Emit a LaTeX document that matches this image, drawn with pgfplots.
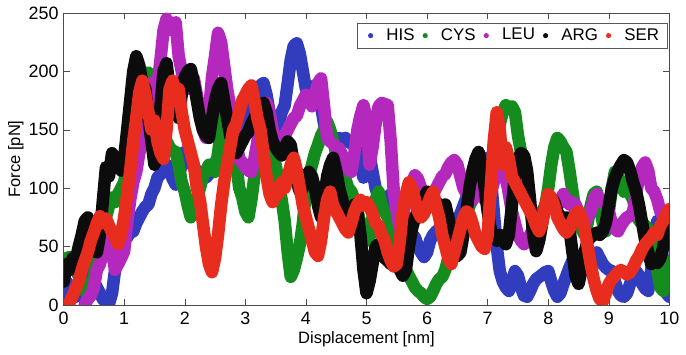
\documentclass[border=0pt]{standalone}
\usepackage{fontspec}
\setmainfont{Liberation Sans}
\usepackage{pgfplots}
\pgfplotsset{compat=1.18}
\definecolor{his}{RGB}{50,60,190}
\definecolor{cys}{RGB}{20,140,30}
\definecolor{leu}{RGB}{180,40,190}
\definecolor{arg}{RGB}{12,12,12}
\definecolor{ser}{RGB}{232,45,30}
\begin{document}
\begin{tikzpicture}
\begin{axis}[
  width=305pt, height=147pt, scale only axis,
  xmin=0, xmax=10, ymin=0, ymax=250,
  xtick={0,1,...,10}, ytick={0,50,...,250},
  xlabel={Displacement [nm]}, ylabel={Force [pN]},
  /pgf/number format/assume math mode=true,
  tick label style={font=\fontsize{9}{11}\selectfont},
  every axis x label/.style={at={([yshift=-17.5pt]rel axis cs:0.5,0)}, anchor=center, font=\fontsize{8.3}{10}\selectfont},
  every axis y label/.style={at={([xshift=-24pt]rel axis cs:0,0.5)}, rotate=90, anchor=center, font=\fontsize{8.3}{10}\selectfont},
  axis line style={gray!60!black},
  tick style={gray!60!black},
  major tick length=3pt,
  yticklabel style={xshift=1pt},
  legend columns=5,
  legend style={at={([xshift=-1pt,yshift=-5pt]rel axis cs:1,1)}, anchor=north east, draw=gray!70!black,
    font=\fontsize{8.5}{10}\selectfont, inner xsep=1.5pt, inner ysep=1pt,
    nodes={inner xsep=2.5pt, inner ysep=1.5pt},
    /tikz/every even column/.append style={column sep=-2.3pt}},
  legend image code/.code={\fill[#1, draw=none, line width=0pt] (0pt,0pt) circle (1.3pt); \path (-2pt,0pt) (2.3pt,0pt);},
  every axis plot/.append style={line width=6.3pt, line join=round, line cap=round},
  extra description/.code={\path ([xshift=-32pt,yshift=6pt]rel axis cs:0,1) ([xshift=6pt,yshift=-24pt]rel axis cs:1,0);},
]
\addplot[his] coordinates {
(0.0,10)(0.05,20)(0.1,15)(0.15,10)(0.2,7)(0.25,15)(0.3,25)(0.35,35)(0.4,41)(0.45,30)(0.5,20)(0.55,15)(0.6,10)(0.65,5)(0.7,2)(0.75,1)(0.8,10)(0.85,30)(0.9,45)(0.95,52)
(1.0,55)(1.05,58)(1.1,62)(1.15,63)(1.2,70)(1.25,75)(1.3,80)(1.35,84)(1.4,86)(1.45,95)(1.5,100)(1.55,109)(1.6,112)(1.65,118)(1.7,120)(1.75,115)(1.8,108)(1.85,103)(1.9,110)(1.95,120)
(2.0,131)(2.05,128)(2.1,122)(2.15,118)(2.2,115)(2.25,112)(2.3,110)(2.35,109)(2.4,112)(2.45,118)(2.5,122)(2.55,125)(2.6,128)(2.65,126)(2.7,124)(2.75,128)(2.8,132)(2.85,138)(2.9,145)(2.95,150)
(3.0,158)(3.05,162)(3.1,170)(3.15,178)(3.2,185)(3.25,188)(3.3,190)(3.35,180)(3.4,165)(3.45,150)(3.5,148)(3.55,155)(3.6,165)(3.65,171)(3.7,190)(3.75,210)(3.8,222)(3.85,224)(3.9,215)(3.95,200)
(4.0,185)(4.05,182)(4.1,185)(4.15,188)(4.2,186)(4.25,170)(4.3,155)(4.35,148)(4.4,145)(4.45,140)(4.5,142)(4.55,143)(4.6,140)(4.65,143)(4.7,140)(4.75,138)(4.8,137)(4.85,130)(4.9,120)(4.95,109)
(5.0,120)(5.05,128)(5.1,114)(5.15,100)(5.2,92)(5.25,88)(5.3,85)(5.35,90)(5.4,95)(5.45,92)(5.5,85)(5.55,80)(5.6,75)(5.65,70)(5.7,65)(5.75,60)(5.8,58)(5.85,50)(5.9,45)(5.95,41)
(6.0,45)(6.05,55)(6.1,60)(6.15,63)(6.2,65)(6.25,68)(6.3,70)(6.35,72)(6.4,70)(6.45,68)(6.5,72)(6.55,78)(6.6,85)(6.65,92)(6.7,100)(6.75,105)(6.8,110)(6.85,115)(6.9,120)(6.95,124)
(7.0,126)(7.05,110)(7.1,80)(7.15,50)(7.2,29)(7.25,20)(7.3,15)(7.35,12)(7.4,20)(7.45,29)(7.5,25)(7.55,15)(7.6,8)(7.65,7)(7.7,12)(7.75,18)(7.8,22)(7.85,24)(7.9,26)(7.95,28)
(8.0,29)(8.05,20)(8.1,12)(8.15,7)(8.2,10)(8.25,18)(8.3,25)(8.35,32)(8.4,38)(8.45,40)(8.5,41)(8.55,38)(8.6,35)(8.65,30)(8.7,35)(8.75,40)(8.8,45)(8.85,40)(8.9,35)(8.95,32)
(9.0,30)(9.05,29)(9.1,20)(9.15,12)(9.2,8)(9.25,7)(9.3,10)(9.35,18)(9.4,25)(9.45,29)(9.5,25)(9.55,18)(9.6,14)(9.65,12)(9.7,30)(9.75,55)(9.8,72)(9.85,60)(9.9,35)(9.95,10)(10.0,7)
};
\addlegendentry{HIS}
\addplot[cys] coordinates {
(0.0,30)(0.05,40)(0.1,41)(0.15,35)(0.2,30)(0.25,25)(0.3,18)(0.35,12)(0.4,9)(0.45,10)(0.5,25)(0.55,38)(0.6,46)(0.65,60)(0.7,75)(0.75,85)(0.8,92)(0.85,88)(0.9,95)(0.95,100)
(1.0,105)(1.05,120)(1.1,140)(1.15,160)(1.2,175)(1.25,185)(1.3,192)(1.35,198)(1.4,199)(1.45,195)(1.5,185)(1.55,170)(1.6,160)(1.65,150)(1.7,140)(1.75,135)(1.8,132)(1.85,131)(1.9,120)(1.95,105)
(2.0,97)(2.05,85)(2.1,75)(2.15,80)(2.2,90)(2.25,100)(2.3,110)(2.35,115)(2.4,120)(2.45,118)(2.5,114)(2.55,130)(2.6,150)(2.65,165)(2.7,171)(2.75,160)(2.8,140)(2.85,120)(2.9,100)(2.95,92)
(3.0,80)(3.05,75)(3.1,90)(3.15,110)(3.2,125)(3.25,135)(3.3,145)(3.35,150)(3.4,140)(3.45,130)(3.5,120)(3.55,105)(3.6,90)(3.65,72)(3.7,45)(3.75,24)(3.8,30)(3.85,40)(3.9,52)(3.95,70)
(4.0,97)(4.05,110)(4.1,120)(4.15,130)(4.2,137)(4.25,145)(4.3,150)(4.35,157)(4.4,150)(4.45,140)(4.5,130)(4.55,120)(4.6,115)(4.65,108)(4.7,100)(4.75,97)(4.8,90)(4.85,80)(4.9,70)(4.95,58)
(5.0,55)(5.05,58)(5.1,75)(5.15,90)(5.2,97)(5.25,85)(5.3,80)(5.35,75)(5.4,70)(5.45,60)(5.5,50)(5.55,40)(5.6,35)(5.65,30)(5.7,25)(5.75,20)(5.8,15)(5.85,12)(5.9,10)(5.95,7)
(6.0,5)(6.05,7)(6.1,12)(6.15,18)(6.2,22)(6.25,24)(6.3,30)(6.35,40)(6.4,45)(6.45,50)(6.5,52)(6.55,60)(6.6,70)(6.65,78)(6.7,85)(6.75,90)(6.8,95)(6.85,100)(6.9,105)(6.95,108)
(7.0,109)(7.05,115)(7.1,125)(7.15,140)(7.2,155)(7.25,165)(7.3,171)(7.35,168)(7.4,170)(7.45,165)(7.5,145)(7.55,131)(7.6,115)(7.65,95)(7.7,80)(7.75,72)(7.8,74)(7.85,78)(7.9,80)(7.95,85)
(8.0,100)(8.05,120)(8.1,135)(8.15,143)(8.2,140)(8.25,135)(8.3,131)(8.35,115)(8.4,97)(8.45,80)(8.5,70)(8.55,65)(8.6,60)(8.65,70)(8.7,85)(8.75,95)(8.8,97)(8.85,85)(8.9,70)(8.95,63)
(9.0,80)(9.05,100)(9.1,114)(9.15,110)(9.2,105)(9.25,97)(9.3,100)(9.35,95)(9.4,90)(9.45,80)(9.5,72)(9.55,70)(9.6,68)(9.65,65)(9.7,55)(9.75,45)(9.8,30)(9.85,15)(9.9,12)(9.95,25)(10.0,37)
};
\addlegendentry{CYS}
\addplot[leu] coordinates {
(0.35,0)(0.4,5)(0.45,8)(0.5,15)(0.55,30)(0.6,35)(0.65,45)(0.7,55)(0.75,58)(0.8,45)(0.85,30)(0.9,35)(0.95,40)
(1.0,46)(1.05,70)(1.1,90)(1.15,105)(1.2,114)(1.25,130)(1.3,140)(1.35,151)(1.4,170)(1.45,190)(1.5,185)(1.55,188)(1.6,210)(1.65,235)(1.7,245)(1.75,240)(1.8,235)(1.85,242)(1.9,213)(1.95,200)
(2.0,190)(2.05,185)(2.1,192)(2.15,194)(2.2,180)(2.25,165)(2.3,150)(2.35,143)(2.4,165)(2.45,195)(2.5,213)(2.55,233)(2.6,225)(2.65,205)(2.7,185)(2.75,170)(2.8,160)(2.85,140)(2.9,125)(2.95,122)
(3.0,118)(3.05,115)(3.1,114)(3.15,125)(3.2,140)(3.25,154)(3.3,165)(3.35,173)(3.4,165)(3.45,150)(3.5,140)(3.55,135)(3.6,140)(3.65,145)(3.7,150)(3.75,155)(3.8,160)(3.85,162)(3.9,170)(3.95,175)
(4.0,180)(4.05,178)(4.1,170)(4.15,180)(4.2,190)(4.25,194)(4.3,170)(4.35,143)(4.4,140)(4.45,138)(4.5,135)(4.55,134)(4.6,128)(4.65,120)(4.7,116)(4.75,114)(4.8,130)(4.85,150)(4.9,162)(4.95,171)
(5.0,160)(5.05,120)(5.1,135)(5.15,155)(5.2,170)(5.25,173)(5.3,172)(5.35,171)(5.4,140)(5.45,97)(5.5,80)(5.55,65)(5.6,75)(5.65,90)(5.7,100)(5.75,105)(5.8,111)(5.85,108)(5.9,100)(5.95,95)
(6.0,92)(6.05,90)(6.1,95)(6.15,100)(6.2,105)(6.25,110)(6.3,112)(6.35,118)(6.4,122)(6.45,124)(6.5,120)(6.55,110)(6.6,100)(6.65,95)(6.7,92)(6.75,90)(6.8,95)(6.85,100)(6.9,95)(6.95,90)
(7.0,88)(7.05,95)(7.1,105)(7.15,110)(7.2,115)(7.25,114)(7.3,110)(7.35,95)(7.4,80)(7.45,70)(7.5,60)(7.55,55)(7.6,52)(7.65,55)(7.7,60)(7.75,65)(7.8,70)(7.85,75)(7.9,80)(7.95,82)
(8.0,85)(8.05,88)(8.1,90)(8.15,85)(8.2,88)(8.25,95)(8.3,90)(8.35,86)(8.4,88)(8.45,86)(8.5,80)(8.55,75)(8.6,70)(8.65,75)(8.7,80)(8.75,90)(8.8,95)(8.85,90)(8.9,88)(8.95,86)
(9.0,80)(9.05,70)(9.1,65)(9.15,63)(9.2,68)(9.25,72)(9.3,75)(9.35,76)(9.4,80)(9.45,95)(9.5,110)(9.55,118)(9.6,122)(9.65,115)(9.7,100)(9.75,97)(9.8,90)(9.85,80)(9.9,75)(9.95,70)(10.0,65)
};
\addlegendentry{LEU}
\addplot[arg] coordinates {
(0.0,20)(0.05,35)(0.1,30)(0.15,40)(0.2,38)(0.25,50)(0.3,60)(0.35,72)(0.4,75)(0.45,65)(0.5,50)(0.55,45)(0.6,60)(0.65,90)(0.7,118)(0.75,110)(0.8,130)(0.85,125)(0.9,120)(0.95,115)
(1.0,126)(1.05,150)(1.1,175)(1.15,200)(1.2,213)(1.25,205)(1.3,190)(1.35,185)(1.4,160)(1.45,140)(1.5,120)(1.55,135)(1.6,170)(1.65,200)(1.7,207)(1.75,185)(1.8,175)(1.85,170)(1.9,160)(1.95,180)
(2.0,195)(2.05,200)(2.1,202)(2.15,190)(2.2,175)(2.25,160)(2.3,150)(2.35,145)(2.4,143)(2.45,160)(2.5,175)(2.55,185)(2.6,190)(2.65,175)(2.7,160)(2.75,145)(2.8,137)(2.85,130)(2.9,135)(2.95,140)
(3.0,145)(3.05,148)(3.1,155)(3.15,160)(3.2,165)(3.25,170)(3.3,173)(3.35,165)(3.4,150)(3.45,140)(3.5,135)(3.55,131)(3.6,128)(3.65,135)(3.7,140)(3.75,137)(3.8,120)(3.85,105)(3.9,97)(3.95,100)
(4.0,108)(4.05,114)(4.1,110)(4.15,100)(4.2,85)(4.25,75)(4.3,90)(4.35,110)(4.4,120)(4.45,126)(4.5,115)(4.55,100)(4.6,90)(4.65,80)(4.7,75)(4.75,80)(4.8,86)(4.85,80)(4.9,60)(4.95,30)
(5.0,10)(5.05,20)(5.1,35)(5.15,50)(5.2,52)(5.25,45)(5.3,40)(5.35,38)(5.4,35)(5.45,45)(5.5,40)(5.55,30)(5.6,25)(5.65,30)(5.7,50)(5.75,65)(5.8,75)(5.85,80)(5.9,85)(5.95,92)
(6.0,97)(6.05,95)(6.1,90)(6.15,88)(6.2,86)(6.25,84)(6.3,86)(6.35,75)(6.4,60)(6.45,50)(6.5,42)(6.55,45)(6.6,60)(6.65,80)(6.7,100)(6.75,115)(6.8,125)(6.85,131)(6.9,120)(6.95,100)
(7.0,80)(7.05,65)(7.1,58)(7.15,55)(7.2,60)(7.25,55)(7.3,52)(7.35,60)(7.4,85)(7.45,110)(7.5,125)(7.55,130)(7.6,128)(7.65,115)(7.7,90)(7.75,60)(7.8,46)(7.85,55)(7.9,70)(7.95,85)
(8.0,90)(8.05,92)(8.1,88)(8.15,80)(8.2,75)(8.25,72)(8.3,75)(8.35,65)(8.4,45)(8.45,25)(8.5,18)(8.55,30)(8.6,45)(8.65,55)(8.7,58)(8.75,60)(8.8,62)(8.85,60)(8.9,63)(8.95,70)
(9.0,85)(9.05,100)(9.1,109)(9.15,115)(9.2,120)(9.25,124)(9.3,122)(9.35,115)(9.4,105)(9.45,97)(9.5,85)(9.55,70)(9.6,55)(9.65,45)(9.7,35)(9.75,38)(9.8,36)(9.85,40)(9.9,50)(9.95,65)(10.0,80)
};
\addlegendentry{ARG}
\addplot[ser] coordinates {
(0.05,0)(0.1,2)(0.15,8)(0.2,14)(0.25,20)(0.3,30)(0.35,38)(0.4,45)(0.45,55)(0.5,62)(0.55,70)(0.6,76)(0.65,70)(0.7,74)(0.75,68)(0.8,62)(0.85,58)(0.9,52)(0.95,60)
(1.0,75)(1.05,95)(1.1,115)(1.15,140)(1.2,160)(1.25,182)(1.3,192)(1.35,180)(1.4,165)(1.45,150)(1.5,158)(1.55,140)(1.6,130)(1.65,125)(1.7,150)(1.75,185)(1.8,192)(1.85,180)(1.9,185)(1.95,165)
(2.0,150)(2.05,140)(2.1,130)(2.15,120)(2.2,100)(2.25,90)(2.3,70)(2.35,50)(2.4,35)(2.45,28)(2.5,40)(2.55,60)(2.6,85)(2.65,105)(2.7,120)(2.75,135)(2.8,150)(2.85,155)(2.9,165)(2.95,175)
(3.0,180)(3.05,185)(3.1,188)(3.15,175)(3.2,160)(3.25,150)(3.3,130)(3.35,110)(3.4,95)(3.45,88)(3.5,100)(3.55,95)(3.6,105)(3.65,100)(3.7,110)(3.75,120)(3.8,126)(3.85,115)(3.9,100)(3.95,85)
(4.0,75)(4.05,65)(4.1,55)(4.15,45)(4.2,42)(4.25,55)(4.3,75)(4.35,90)(4.4,97)(4.45,85)(4.5,80)(4.55,75)(4.6,70)(4.65,65)(4.7,62)(4.75,70)(4.8,80)(4.85,86)(4.9,90)(4.95,85)
(5.0,88)(5.05,84)(5.1,78)(5.15,70)(5.2,68)(5.25,60)(5.3,55)(5.35,45)(5.4,38)(5.45,33)(5.5,35)(5.55,55)(5.6,80)(5.65,95)(5.7,105)(5.75,100)(5.8,90)(5.85,80)(5.9,75)(5.95,78)
(6.0,85)(6.05,92)(6.1,97)(6.15,85)(6.2,75)(6.25,60)(6.3,50)(6.35,40)(6.4,35)(6.45,45)(6.5,55)(6.55,65)(6.6,75)(6.65,80)(6.7,78)(6.75,70)(6.8,60)(6.85,55)(6.9,50)(6.95,48)
(7.0,60)(7.05,100)(7.1,140)(7.15,165)(7.2,150)(7.25,120)(7.3,135)(7.35,125)(7.4,110)(7.45,105)(7.5,100)(7.55,95)(7.6,90)(7.65,85)(7.7,80)(7.75,75)(7.8,68)(7.85,63)(7.9,70)(7.95,85)
(8.0,95)(8.05,92)(8.1,85)(8.15,75)(8.2,70)(8.25,65)(8.3,62)(8.35,65)(8.4,72)(8.45,78)(8.5,80)(8.55,75)(8.6,65)(8.65,50)(8.7,35)(8.75,22)(8.8,12)(8.85,5)(8.9,3)(8.95,10)
(9.0,18)(9.05,22)(9.1,25)(9.15,28)(9.2,30)(9.25,28)(9.3,26)(9.35,28)(9.4,32)(9.45,38)(9.5,42)(9.55,48)(9.6,52)(9.65,55)(9.7,58)(9.75,62)(9.8,60)(9.85,68)(9.9,72)(9.95,78)(10.0,82)
};
\addlegendentry{SER}
\end{axis}
\end{tikzpicture}
\end{document}
